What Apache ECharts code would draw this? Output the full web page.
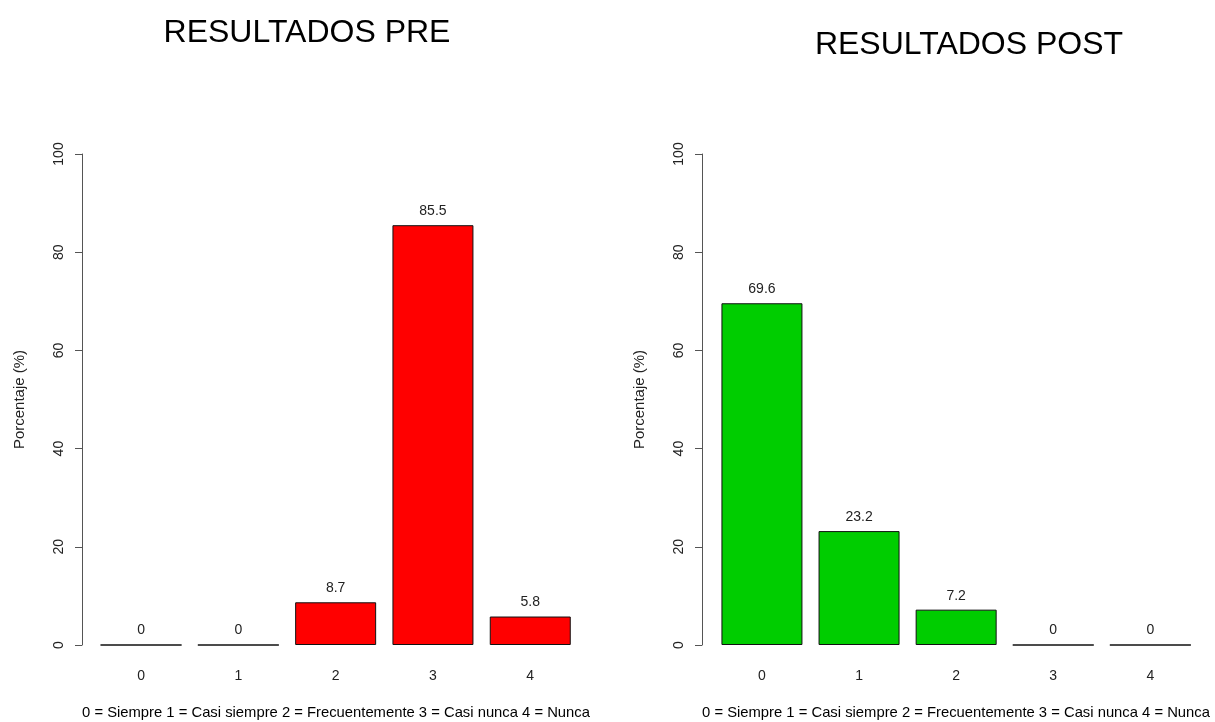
<!DOCTYPE html>
<html>
<head>
<meta charset="utf-8">
<script src="https://cdn.jsdelivr.net/npm/echarts@6/dist/echarts.min.js"></script>
<style>
html,body{margin:0;padding:0;background:#fff;}
#c{width:1215px;height:722px;}
</style>
</head>
<body>
<div id="c"></div>
<script>
const categories = ['0', '1', '2', '3', '4'];
const preValues = [0, 0, 8.7, 85.5, 5.8];
const postValues = [69.6, 23.2, 7.2, 0, 0];
const yMin = 0, yMax = 100, yInterval = 20;
const titlePre = 'RESULTADOS PRE';
const titlePost = 'RESULTADOS POST';
const legendText = '0 = Siempre 1 = Casi siempre 2 = Frecuentemente 3 = Casi nunca 4 = Nunca';
const yName = 'Porcentaje (%)';

const FONT = 'Liberation Sans, Arial, sans-serif';
const chart = echarts.init(document.getElementById('c'), null, {renderer: 'canvas'});

function yAxis(gridIndex, offset) {
  return {
    type: 'value', gridIndex, min: yMin, max: yMax, interval: yInterval,
    offset,
    name: yName, nameLocation: 'middle', nameGap: 55, nameRotate: 90,
    nameTextStyle: {fontFamily: FONT, fontSize: 15, color: '#222'},
    axisLine: {show: true, lineStyle: {color: '#555', width: 1}},
    axisTick: {show: true, length: 7, lineStyle: {color: '#555'}},
    axisLabel: {rotate: 90, fontFamily: FONT, fontSize: 14, color: '#222', margin: 16},
    splitLine: {show: false}
  };
}
function xAxis(gridIndex) {
  return {
    type: 'category', gridIndex, data: categories,
    axisLine: {show: false}, axisTick: {show: false},
    axisLabel: {fontFamily: FONT, fontSize: 14, color: '#222', margin: 24}
  };
}
function series(i, data, color) {
  return {
    type: 'bar', xAxisIndex: i, yAxisIndex: i, data, barWidth: 81,
    itemStyle: {color, borderColor: '#111', borderWidth: 1},
    label: {show: true, position: 'top', distance: 7, fontFamily: FONT, fontSize: 14, color: '#222'},
    silent: true, animation: false
  };
}

chart.setOption({
  animation: false,
  backgroundColor: '#fff',
  title: [
    {text: titlePre, left: 302, top: 12, textAlign: 'center', textStyle: {fontFamily: FONT, fontSize: 32, fontWeight: 'normal', color: '#000'}},
    {text: titlePost, left: 964, top: 24, textAlign: 'center', textStyle: {fontFamily: FONT, fontSize: 32, fontWeight: 'normal', color: '#000'}},
    {text: legendText, left: 331, top: 700, textAlign: 'center', textStyle: {fontFamily: FONT, fontSize: 14.8, fontWeight: 'normal', color: '#000'}},
    {text: legendText, left: 951, top: 700, textAlign: 'center', textStyle: {fontFamily: FONT, fontSize: 14.8, fontWeight: 'normal', color: '#000'}}
  ],
  grid: [
    {left: 92.4, width: 486.5, top: 154, height: 491},
    {left: 713.4, width: 485.5, top: 154, height: 491}
  ],
  xAxis: [xAxis(0), xAxis(1)],
  yAxis: [yAxis(0, 10.4), yAxis(1, 11.4)],
  series: [series(0, preValues, '#FF0000'), series(1, postValues, '#00CD00')]
});
</script>
</body>
</html>
